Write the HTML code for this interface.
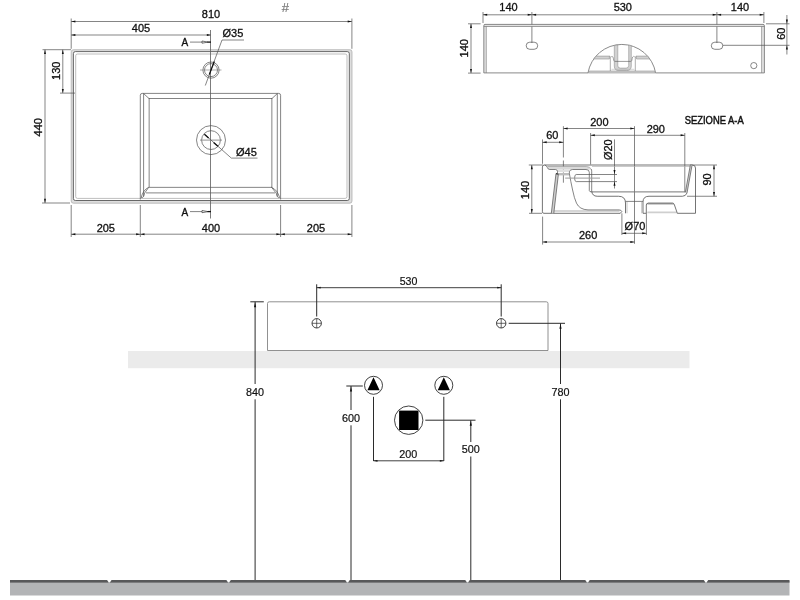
<!DOCTYPE html>
<html><head><meta charset="utf-8"><title>Scheda tecnica</title>
<style>
html,body{margin:0;padding:0;background:#fff;}
body{width:800px;height:600px;overflow:hidden;}
svg{display:block;will-change:transform;font-family:"Liberation Sans",Arial,Helvetica,sans-serif;}
</style></head><body>
<svg width="800" height="600" viewBox="0 0 800 600">
<rect x="0" y="0" width="800" height="600" fill="#ffffff"/>
<g id="topview">
<line x1="71.2" y1="18.5" x2="71.2" y2="48.8" stroke="#505050" stroke-width="0.7" />
<line x1="351.9" y1="18.5" x2="351.9" y2="48.8" stroke="#505050" stroke-width="0.7" />
<line x1="71.2" y1="21.5" x2="351.9" y2="21.5" stroke="#505050" stroke-width="0.7" />
<polygon points="71.20,21.50 75.40,20.50 75.40,22.50" fill="#111"/>
<polygon points="351.90,21.50 347.70,22.50 347.70,20.50" fill="#111"/>
<line x1="71.2" y1="35" x2="211" y2="35" stroke="#505050" stroke-width="0.7" />
<polygon points="71.20,35.00 75.40,34.00 75.40,36.00" fill="#111"/>
<polygon points="211.00,35.00 206.80,36.00 206.80,34.00" fill="#111"/>
<text x="211" y="18.3" font-size="11.77" text-anchor="middle" fill="#111" stroke="#111" stroke-width="0.32" textLength="18.35" lengthAdjust="spacingAndGlyphs" >810</text>
<text x="141" y="32.4" font-size="11.77" text-anchor="middle" fill="#111" stroke="#111" stroke-width="0.32" textLength="18.35" lengthAdjust="spacingAndGlyphs" >405</text>
<text x="285.3" y="12.4" font-size="13" text-anchor="middle" fill="#777" stroke="#777" stroke-width="0.15" >#</text>
<line x1="42.5" y1="49.7" x2="71" y2="49.7" stroke="#505050" stroke-width="0.7" />
<line x1="42" y1="203" x2="70" y2="203" stroke="#505050" stroke-width="0.7" />
<line x1="45" y1="49.7" x2="45" y2="203" stroke="#505050" stroke-width="0.7" />
<polygon points="45.00,49.70 46.00,53.90 44.00,53.90" fill="#111"/>
<polygon points="45.00,203.00 44.00,198.80 46.00,198.80" fill="#111"/>
<line x1="62.8" y1="49.7" x2="62.8" y2="93.1" stroke="#505050" stroke-width="0.7" />
<polygon points="62.80,49.70 63.80,53.90 61.80,53.90" fill="#111"/>
<polygon points="62.80,93.10 61.80,88.90 63.80,88.90" fill="#111"/>
<text x="59.6" y="70.8" font-size="11.77" text-anchor="middle" fill="#111" stroke="#111" stroke-width="0.32" transform="rotate(-90 59.6 70.8)" textLength="18.35" lengthAdjust="spacingAndGlyphs" >130</text>
<text x="42.5" y="127.2" font-size="11.77" text-anchor="middle" fill="#111" stroke="#111" stroke-width="0.32" transform="rotate(-90 42.5 127.2)" textLength="18.35" lengthAdjust="spacingAndGlyphs" >440</text>
<path d="M73.4 49.7 H349.8 Q352 49.7 352 51.900000000000006 V201.0 Q352 203.2 349.8 203.2 H73.4 Q71.2 203.2 71.2 201.0 V51.900000000000006 Q71.2 49.7 73.4 49.7 Z" fill="#dedede" stroke="#a8a8a8" stroke-width="0.7" />
<path d="M75.4 51.6 H347.3 Q349.3 51.6 349.3 53.6 V198.5 Q349.3 200.5 347.3 200.5 H75.4 Q73.4 200.5 73.4 198.5 V53.6 Q73.4 51.6 75.4 51.6 Z" fill="#fff" stroke="#444" stroke-width="0.8" />
<path d="M77.5 54 H345.2 Q347 54 347 55.8 V196.6 Q347 198.4 345.2 198.4 H77.5 Q75.7 198.4 75.7 196.6 V55.8 Q75.7 54 77.5 54 Z" fill="none" stroke="#a2a2a2" stroke-width="0.7" />
<line x1="60" y1="93.1" x2="75" y2="93.1" stroke="#505050" stroke-width="0.7" />
<path d="M140.3 199.5 V95.3 Q140.3 93.4 142.2 93.4 H278.7 Q280.6 93.4 280.6 95.3 V199.5" fill="none" stroke="#505050" stroke-width="0.7" />
<line x1="143.6" y1="93.6" x2="143.6" y2="196.5" stroke="#505050" stroke-width="0.7" />
<line x1="277.3" y1="93.6" x2="277.3" y2="196.5" stroke="#505050" stroke-width="0.7" />
<rect x="149.1" y="98.6" width="122.8" height="88.65" rx="0" fill="none" stroke="#505050" stroke-width="0.7"/>
<line x1="146" y1="192.9" x2="275" y2="192.9" stroke="#505050" stroke-width="0.7" />
<path d="M143.6 93.6 L149.1 98.6 M277.3 93.6 L271.9 98.6" fill="none" stroke="#505050" stroke-width="0.7" />
<path d="M148.75 187.25 Q143 190 141.2 197.5 Q143.5 198.5 144.6 193.1 Z" fill="none" stroke="#505050" stroke-width="0.7" />
<path d="M271.5 187.25 Q277.5 190 279.6 197.5 Q277.3 198.5 276.2 193.1 Z" fill="none" stroke="#505050" stroke-width="0.7" />
<line x1="210.5" y1="30" x2="210.5" y2="218.5" stroke="#5a5a5a" stroke-width="0.8" />
<circle cx="211" cy="70.1" r="8.1" fill="none" stroke="#505050" stroke-width="0.7"/>
<circle cx="211" cy="70.1" r="6.5" fill="none" stroke="#505050" stroke-width="0.7"/>
<line x1="200" y1="70" x2="221.5" y2="70" stroke="#777" stroke-width="0.6" />
<path d="M222 40 H244 M222 40 L205.3 85.5" fill="none" stroke="#505050" stroke-width="0.7" />
<line x1="214.3" y1="61.5" x2="209.3" y2="74.5" stroke="#111" stroke-width="1.2" />
<text x="222.5" y="36.9" font-size="11.77" text-anchor="start" fill="#111" stroke="#111" stroke-width="0.32" textLength="20.79" lengthAdjust="spacingAndGlyphs" >Ø35</text>
<circle cx="211" cy="140.1" r="14.5" fill="none" stroke="#505050" stroke-width="0.7"/>
<circle cx="211" cy="140.1" r="9.4" fill="none" stroke="#505050" stroke-width="0.7"/>
<line x1="200" y1="140.1" x2="222" y2="140.1" stroke="#888" stroke-width="0.9" />
<path d="M204.4 134.2 L231.3 158.1 H257.5" fill="none" stroke="#505050" stroke-width="0.7" />
<line x1="204.4" y1="134.2" x2="208.6" y2="138" stroke="#111" stroke-width="1.3" />
<line x1="213.6" y1="142.4" x2="217.9" y2="146.2" stroke="#111" stroke-width="1.3" />
<text x="236" y="156.1" font-size="11.77" text-anchor="start" fill="#111" stroke="#111" stroke-width="0.32" textLength="20.79" lengthAdjust="spacingAndGlyphs" >Ø45</text>
<text x="181.6" y="45.6" font-size="10" text-anchor="start" fill="#111" stroke="#111" stroke-width="0.35" >A</text>
<line x1="190" y1="42.1" x2="202" y2="42.1" stroke="#505050" stroke-width="0.7" />
<path d="M202 41.0 L208 42.1 L202 43.2 Z" fill="none" stroke="#333" stroke-width="0.7" />
<line x1="207.5" y1="42.1" x2="211" y2="42.1" stroke="#111" stroke-width="1.3" />
<text x="181.6" y="215.8" font-size="10" text-anchor="start" fill="#111" stroke="#111" stroke-width="0.35" >A</text>
<line x1="190" y1="211.6" x2="202" y2="211.6" stroke="#505050" stroke-width="0.7" />
<path d="M202 210.5 L208 211.6 L202 212.7 Z" fill="none" stroke="#333" stroke-width="0.7" />
<line x1="207.5" y1="211.6" x2="211" y2="211.6" stroke="#111" stroke-width="1.3" />
<line x1="71.2" y1="205" x2="71.2" y2="237" stroke="#505050" stroke-width="0.7" />
<line x1="140.3" y1="205" x2="140.3" y2="237" stroke="#505050" stroke-width="0.7" />
<line x1="280.6" y1="205" x2="280.6" y2="237" stroke="#505050" stroke-width="0.7" />
<line x1="351.9" y1="205" x2="351.9" y2="237" stroke="#505050" stroke-width="0.7" />
<line x1="71.2" y1="234.2" x2="351.9" y2="234.2" stroke="#505050" stroke-width="0.7" />
<polygon points="71.20,234.20 75.40,233.20 75.40,235.20" fill="#111"/>
<polygon points="140.30,234.20 136.10,235.20 136.10,233.20" fill="#111"/>
<polygon points="140.30,234.20 144.50,233.20 144.50,235.20" fill="#111"/>
<polygon points="280.60,234.20 276.40,235.20 276.40,233.20" fill="#111"/>
<polygon points="280.60,234.20 284.80,233.20 284.80,235.20" fill="#111"/>
<polygon points="351.90,234.20 347.70,235.20 347.70,233.20" fill="#111"/>
<text x="105.8" y="231.5" font-size="11.77" text-anchor="middle" fill="#111" stroke="#111" stroke-width="0.32" textLength="18.35" lengthAdjust="spacingAndGlyphs" >205</text>
<text x="211" y="231.5" font-size="11.77" text-anchor="middle" fill="#111" stroke="#111" stroke-width="0.32" textLength="18.35" lengthAdjust="spacingAndGlyphs" >400</text>
<text x="316" y="231.5" font-size="11.77" text-anchor="middle" fill="#111" stroke="#111" stroke-width="0.32" textLength="18.35" lengthAdjust="spacingAndGlyphs" >205</text>
</g>
<g id="front">
<line x1="483" y1="12" x2="483" y2="23" stroke="#505050" stroke-width="0.7" />
<line x1="763.9" y1="12" x2="763.9" y2="23" stroke="#505050" stroke-width="0.7" />
<line x1="531.9" y1="12" x2="531.9" y2="43" stroke="#505050" stroke-width="0.7" />
<line x1="716.9" y1="12" x2="716.9" y2="43" stroke="#505050" stroke-width="0.7" />
<line x1="483" y1="14.8" x2="763.9" y2="14.8" stroke="#505050" stroke-width="0.7" />
<polygon points="483.00,14.80 487.20,13.80 487.20,15.80" fill="#111"/>
<polygon points="531.90,14.80 527.70,15.80 527.70,13.80" fill="#111"/>
<polygon points="531.90,14.80 536.10,13.80 536.10,15.80" fill="#111"/>
<polygon points="716.90,14.80 712.70,15.80 712.70,13.80" fill="#111"/>
<polygon points="716.90,14.80 721.10,13.80 721.10,15.80" fill="#111"/>
<polygon points="763.90,14.80 759.70,15.80 759.70,13.80" fill="#111"/>
<text x="508.5" y="10.9" font-size="11.77" text-anchor="middle" fill="#111" stroke="#111" stroke-width="0.32" textLength="18.35" lengthAdjust="spacingAndGlyphs" >140</text>
<text x="622.8" y="10.9" font-size="11.77" text-anchor="middle" fill="#111" stroke="#111" stroke-width="0.32" textLength="18.35" lengthAdjust="spacingAndGlyphs" >530</text>
<text x="740" y="10.9" font-size="11.77" text-anchor="middle" fill="#111" stroke="#111" stroke-width="0.32" textLength="18.35" lengthAdjust="spacingAndGlyphs" >140</text>
<line x1="468" y1="23.8" x2="480.6" y2="23.8" stroke="#505050" stroke-width="0.7" />
<line x1="468" y1="73.1" x2="480.6" y2="73.1" stroke="#505050" stroke-width="0.7" />
<line x1="471" y1="23.8" x2="471" y2="73.1" stroke="#505050" stroke-width="0.7" />
<polygon points="471.00,23.80 472.00,28.00 470.00,28.00" fill="#111"/>
<polygon points="471.00,73.10 470.00,68.90 472.00,68.90" fill="#111"/>
<text x="468.1" y="48.3" font-size="11.77" text-anchor="middle" fill="#111" stroke="#111" stroke-width="0.32" transform="rotate(-90 468.1 48.3)" textLength="18.35" lengthAdjust="spacingAndGlyphs" >140</text>
<path d="M484 24.6 H764.2 V72.7 H761.6 V26.5 H486.3 V72.7 H484 Z" fill="#e2e2e2" stroke="none"/>
<path d="M485 24.4 H763 Q764.4 24.4 764.4 25.8 V72.9 H655.6 M588 72.9 H483.8 V25.8 Q483.8 24.4 485 24.4" fill="none" stroke="#6c6c6c" stroke-width="0.8" />
<path d="M483.8 26.5 H764.4" fill="none" stroke="#777" stroke-width="0.7" />
<line x1="486.3" y1="26.5" x2="486.3" y2="72.9" stroke="#777" stroke-width="0.6" />
<line x1="761.6" y1="26.5" x2="761.6" y2="72.9" stroke="#777" stroke-width="0.6" />
<rect x="526.2" y="42.2" width="11.5" height="7.1" rx="3.55" fill="none" stroke="#505050" stroke-width="0.7"/>
<rect x="711.3" y="42.2" width="11.5" height="7.1" rx="3.55" fill="none" stroke="#505050" stroke-width="0.7"/>
<circle cx="753.8" cy="65.6" r="3.1" fill="none" stroke="#555" stroke-width="0.7"/>
<line x1="766" y1="23.8" x2="789.5" y2="23.8" stroke="#505050" stroke-width="0.7" />
<line x1="722.8" y1="45.3" x2="789.5" y2="45.3" stroke="#505050" stroke-width="0.7" />
<line x1="786.9" y1="15" x2="786.9" y2="54.5" stroke="#505050" stroke-width="0.7" />
<polygon points="786.90,23.80 785.90,19.60 787.90,19.60" fill="#111"/>
<polygon points="786.90,45.30 787.90,49.50 785.90,49.50" fill="#111"/>
<text x="784.7" y="33.7" font-size="11.77" text-anchor="middle" fill="#111" stroke="#111" stroke-width="0.32" transform="rotate(-90 784.7 33.7)" textLength="12.23" lengthAdjust="spacingAndGlyphs" >60</text>
<path d="M588 72.9 A34.3 34.3 0 0 1 655.6 72.9" fill="none" stroke="#6c6c6c" stroke-width="0.8" />
<g stroke="#8a8a8a" stroke-width="0.55" fill="#d2d2d2">
<path d="M614.3 45.6 V66 Q614.3 70.6 618.9 70.6 H626.7 Q631.3 70.6 631.3 66 V45.6 L628.7 45 V65.6 Q628.7 68.1 626.2 68.1 H620.3 Q617.8 68.1 617.8 65.6 V45 Z"/>
<path d="M596.1 56.1 H609.4 V59 H593.8 Z"/>
<path d="M636.5 56.1 H647.5 L649.8 59 H636.5 Z"/>
<path d="M589.3 71 H654.4 L655.5 73 H588.2 Z"/>
</g>
<path d="M609.4 56.1 Q610.3 56.3 610.3 58 V71 M636.5 56.1 Q635.3 56.3 635.3 58 V71" fill="none" stroke="#777" stroke-width="0.6" />
<path d="M612.2 56.4 Q613.2 56.8 613.4 58.5 Q613.6 60.5 614.3 61.4 M633.4 56.4 Q632.4 56.8 632.2 58.5 Q632 60.5 631.3 61.4" fill="none" stroke="#666" stroke-width="0.6" />
<path d="M610.3 57 L612.2 56.4 M635.3 57 L633.4 56.4" fill="none" stroke="#777" stroke-width="0.5" />
<line x1="614.8" y1="61.4" x2="630.8" y2="61.4" stroke="#555" stroke-width="0.6" />
<line x1="611.5" y1="69.3" x2="634.3" y2="69.3" stroke="#aaa" stroke-width="0.5" />
</g>
<g id="section">
<text x="684.7" y="124" font-size="10.5" text-anchor="start" fill="#111" stroke="#111" stroke-width="0.45" textLength="59" lengthAdjust="spacingAndGlyphs" >SEZIONE A-A</text>
<line x1="542.5" y1="139.4" x2="542.5" y2="163.8" stroke="#505050" stroke-width="0.7" />
<line x1="563.4" y1="126.2" x2="563.4" y2="157.5" stroke="#505050" stroke-width="0.7" />
<line x1="563.4" y1="160.5" x2="563.4" y2="172.6" stroke="#505050" stroke-width="0.7" />
<line x1="563.4" y1="173.9" x2="563.4" y2="182.7" stroke="#505050" stroke-width="0.7" />
<line x1="542.5" y1="142.3" x2="563.4" y2="142.3" stroke="#505050" stroke-width="0.7" />
<polygon points="542.50,142.30 546.70,141.30 546.70,143.30" fill="#111"/>
<polygon points="563.40,142.30 559.20,143.30 559.20,141.30" fill="#111"/>
<text x="552.3" y="138.5" font-size="11.77" text-anchor="middle" fill="#111" stroke="#111" stroke-width="0.32" textLength="12.23" lengthAdjust="spacingAndGlyphs" >60</text>
<line x1="563.4" y1="128.5" x2="634.5" y2="128.5" stroke="#505050" stroke-width="0.7" />
<polygon points="563.40,128.50 567.60,127.50 567.60,129.50" fill="#111"/>
<polygon points="634.50,128.50 630.30,129.50 630.30,127.50" fill="#111"/>
<text x="599.4" y="125.6" font-size="11.77" text-anchor="middle" fill="#111" stroke="#111" stroke-width="0.32" textLength="18.35" lengthAdjust="spacingAndGlyphs" >200</text>
<line x1="590.6" y1="133" x2="590.6" y2="164.5" stroke="#505050" stroke-width="0.7" />
<line x1="684.8" y1="133" x2="684.8" y2="192" stroke="#505050" stroke-width="0.7" />
<line x1="590.6" y1="135.3" x2="684.8" y2="135.3" stroke="#505050" stroke-width="0.7" />
<polygon points="590.60,135.30 594.80,134.30 594.80,136.30" fill="#111"/>
<polygon points="684.80,135.30 680.60,136.30 680.60,134.30" fill="#111"/>
<text x="655.8" y="132.7" font-size="11.77" text-anchor="middle" fill="#111" stroke="#111" stroke-width="0.32" textLength="18.35" lengthAdjust="spacingAndGlyphs" >290</text>
<text x="611.9" y="149.7" font-size="11.77" text-anchor="middle" fill="#111" stroke="#111" stroke-width="0.32" transform="rotate(-90 611.9 149.7)" textLength="20.79" lengthAdjust="spacingAndGlyphs" >Ø20</text>
<line x1="614.5" y1="139.4" x2="614.5" y2="188.5" stroke="#505050" stroke-width="0.7" />
<polygon points="614.50,174.30 613.50,170.10 615.50,170.10" fill="#111"/>
<polygon points="614.50,181.50 615.50,185.70 613.50,185.70" fill="#111"/>
<line x1="634.5" y1="126.2" x2="634.5" y2="243.8" stroke="#505050" stroke-width="0.7" />
<line x1="528.8" y1="165" x2="543" y2="165" stroke="#505050" stroke-width="0.7" />
<line x1="529" y1="213.3" x2="542" y2="213.3" stroke="#505050" stroke-width="0.7" />
<line x1="531.8" y1="165" x2="531.8" y2="213.3" stroke="#505050" stroke-width="0.7" />
<polygon points="531.80,165.00 532.80,169.20 530.80,169.20" fill="#111"/>
<polygon points="531.80,213.30 530.80,209.10 532.80,209.10" fill="#111"/>
<text x="529" y="190" font-size="11.77" text-anchor="middle" fill="#111" stroke="#111" stroke-width="0.32" transform="rotate(-90 529 190)" textLength="18.35" lengthAdjust="spacingAndGlyphs" >140</text>
<line x1="690" y1="165" x2="717" y2="165" stroke="#505050" stroke-width="0.7" />
<line x1="687" y1="196.25" x2="717" y2="196.25" stroke="#505050" stroke-width="0.7" />
<line x1="714" y1="165" x2="714" y2="196.25" stroke="#505050" stroke-width="0.7" />
<polygon points="714.00,165.00 715.00,169.20 713.00,169.20" fill="#111"/>
<polygon points="714.00,196.25 713.00,192.05 715.00,192.05" fill="#111"/>
<text x="711.2" y="179.5" font-size="11.77" text-anchor="middle" fill="#111" stroke="#111" stroke-width="0.32" transform="rotate(-90 711.2 179.5)" textLength="12.23" lengthAdjust="spacingAndGlyphs" >90</text>
<line x1="542.6" y1="216.6" x2="542.6" y2="244.6" stroke="#505050" stroke-width="0.7" />
<line x1="542.6" y1="242" x2="634.5" y2="242" stroke="#505050" stroke-width="0.7" />
<polygon points="542.60,242.00 546.80,241.00 546.80,243.00" fill="#111"/>
<polygon points="634.50,242.00 630.30,243.00 630.30,241.00" fill="#111"/>
<text x="588.1" y="238.9" font-size="11.77" text-anchor="middle" fill="#111" stroke="#111" stroke-width="0.32" textLength="18.35" lengthAdjust="spacingAndGlyphs" >260</text>
<line x1="621.9" y1="213.3" x2="621.9" y2="235" stroke="#505050" stroke-width="0.7" />
<line x1="646.4" y1="213.3" x2="646.4" y2="235" stroke="#505050" stroke-width="0.7" />
<line x1="621.9" y1="233.3" x2="646.4" y2="233.3" stroke="#505050" stroke-width="0.7" />
<polygon points="621.90,233.30 626.10,232.30 626.10,234.30" fill="#111"/>
<polygon points="646.40,233.30 642.20,234.30 642.20,232.30" fill="#111"/>
<text x="635" y="230.1" font-size="11.77" text-anchor="middle" fill="#111" stroke="#111" stroke-width="0.32" textLength="20.79" lengthAdjust="spacingAndGlyphs" >Ø70</text>
<line x1="592" y1="166.5" x2="690" y2="166.5" stroke="#a8a8a8" stroke-width="0.6" />
<path d="M544.4 165 Q542.4 165 542.4 167 V211.8 Q542.4 213.3 543.9 213.3 H620.3 L621.8 211.5 M544.4 165 H692.3 Q695.5 165 695.5 168 V213.3 H677.3" fill="none" stroke="#505050" stroke-width="0.8" />
<path d="M547.4 166.6 H586.5 Q590 166.6 591 169.5 H548.8 Z" fill="#d9d9d9" stroke="none"/>
<path d="M557.6 169.5 H569.3 V172 H557.6 Z" fill="#e0e0e0" stroke="none"/>
<path d="M558.4 173 H569.3 V175.4 H558.4 Z" fill="#bdbdbd" stroke="none"/>
<path d="M544.6 165 Q546.4 165.3 547.2 167.3 Q548 169.5 549.6 169.5 H555.5 Q557.7 169.7 557.6 171.8 L557.2 173.8 M591.2 169 Q591.7 170 591.7 171.2 V191 M572.4 169.5 H586 Q589.3 169.5 589.3 172.3 V190.5" fill="none" stroke="#505050" stroke-width="0.7" />
<path d="M547.4 166.5 H586.3 Q589.8 166.5 591.2 169" fill="none" stroke="#8c8c8c" stroke-width="0.6" />
<path d="M589.3 190.5 Q589.5 191.9 591.5 191.9 H685" fill="none" stroke="#777" stroke-width="1.0" />
<path d="M591.7 191 Q592.2 196.25 597.2 196.25 H618.5 Q625.5 196.25 625.5 203 V213.3 M643 213.3 V202 Q643 196.25 649 196.25 H682.5 Q685.6 196.25 687 193" fill="none" stroke="#505050" stroke-width="0.8" />
<line x1="625.5" y1="201.4" x2="643" y2="201.4" stroke="#505050" stroke-width="0.7" />
<line x1="627" y1="201.4" x2="627" y2="213.3" stroke="#8a8a8a" stroke-width="0.5" />
<line x1="641.7" y1="201.4" x2="641.7" y2="213.3" stroke="#8a8a8a" stroke-width="0.5" />
<path d="M690.3 165.2 L692 165.5 L687 193 L685.3 192.5 Z" fill="#cfcfcf" stroke="none"/>
<path d="M690.3 165.2 L685.3 192.5 M692 165.5 L687 193" fill="none" stroke="#505050" stroke-width="0.7" />
<path d="M648 202.6 H673.3 L674.3 205 H647.2 Z" fill="#cfcfcf" stroke="none"/>
<path d="M647.5 211.6 H676.2 L677 213.3 H647.2 Z" fill="#cfcfcf" stroke="none"/>
<path d="M643 213.3 H646.3 V205 Q646.3 203.2 648.2 203.2 H672.5 Q673.8 203.2 674.3 204.5 L677.3 213.3" fill="none" stroke="#505050" stroke-width="0.8" />
<path d="M555.9 173.6 L558.4 174.2 L553.8 213.3 L551.3 213.3 Z" fill="#cfcfcf" stroke="none"/>
<path d="M556 173.6 L551.3 213.3 M558.4 174.2 L553.8 213.3" fill="none" stroke="#505050" stroke-width="0.7" />
<path d="M556 173.6 L558.4 174.2" fill="none" stroke="#333" stroke-width="1.2" />
<path d="M572.4 169.5 Q569.5 169.8 569.4 171.8 V173.6 Q570.6 181 572.6 190 Q574.3 198.5 576.5 203.2 Q579.5 209.6 588 209.9 H619 Q621.5 210 621.8 211.5" fill="none" stroke="#505050" stroke-width="0.7" />
<path d="M553.9 211 H619.5" fill="none" stroke="#777" stroke-width="0.6" />
<path d="M576.2 174.5 Q574.6 174.5 574.6 178 Q574.6 181.6 576.2 181.6 M576.2 174.5 H617 M576.2 181.6 H617" fill="none" stroke="#505050" stroke-width="0.7" />
<line x1="565.2" y1="178.1" x2="600" y2="178.1" stroke="#9a9a9a" stroke-width="1.0" />
</g>
<g id="install">
<rect x="128" y="351" width="561.5" height="17.2" fill="#ebebeb"/>
<path d="M269.2 301.8 H546.3 Q548 301.8 548 303.5 V350.5 H267.5 V303.5 Q267.5 301.8 269.2 301.8 Z" fill="none" stroke="#858585" stroke-width="0.9" />
<line x1="316.7" y1="284.3" x2="316.7" y2="316.5" stroke="#2b2b2b" stroke-width="1.0" />
<line x1="501.2" y1="284.3" x2="501.2" y2="316.5" stroke="#2b2b2b" stroke-width="1.0" />
<line x1="316.7" y1="287.7" x2="501.2" y2="287.7" stroke="#2b2b2b" stroke-width="0.9" />
<polygon points="316.70,287.70 320.70,286.80 320.70,288.60" fill="#111"/>
<polygon points="501.20,287.70 497.20,288.60 497.20,286.80" fill="#111"/>
<text x="408.5" y="284.6" font-size="10.6" text-anchor="middle" fill="#111" stroke="#111" stroke-width="0.2" >530</text>
<circle cx="316.7" cy="323.3" r="4.7" fill="none" stroke="#2b2b2b" stroke-width="0.9"/>
<line x1="312.0" y1="323.3" x2="321.4" y2="323.3" stroke="#2b2b2b" stroke-width="0.7" />
<line x1="316.7" y1="318.6" x2="316.7" y2="328" stroke="#2b2b2b" stroke-width="0.7" />
<circle cx="501.2" cy="323.3" r="4.7" fill="none" stroke="#2b2b2b" stroke-width="0.9"/>
<line x1="496.5" y1="323.3" x2="505.9" y2="323.3" stroke="#2b2b2b" stroke-width="0.7" />
<line x1="501.2" y1="318.6" x2="501.2" y2="328" stroke="#2b2b2b" stroke-width="0.7" />
<line x1="250.3" y1="301.8" x2="263.8" y2="301.8" stroke="#2b2b2b" stroke-width="1.0" />
<line x1="255.1" y1="301.8" x2="255.1" y2="384" stroke="#2b2b2b" stroke-width="1.0" />
<line x1="255.1" y1="399.3" x2="255.1" y2="580" stroke="#2b2b2b" stroke-width="1.0" />
<polygon points="255.10,302.30 256.20,307.30 254.00,307.30" fill="#111"/>
<text x="255.1" y="396" font-size="10.8" text-anchor="middle" fill="#111" stroke="#111" stroke-width="0.2" >840</text>
<line x1="508.7" y1="323.3" x2="565" y2="323.3" stroke="#2b2b2b" stroke-width="1.0" />
<line x1="560.5" y1="323.3" x2="560.5" y2="384" stroke="#2b2b2b" stroke-width="1.0" />
<line x1="560.5" y1="399.3" x2="560.5" y2="580" stroke="#2b2b2b" stroke-width="1.0" />
<polygon points="560.50,323.80 561.60,328.80 559.40,328.80" fill="#111"/>
<text x="560.5" y="396" font-size="10.8" text-anchor="middle" fill="#111" stroke="#111" stroke-width="0.2" >780</text>
<circle cx="373.5" cy="385.3" r="9" fill="#fff" stroke="#2b2b2b" stroke-width="0.9"/>
<polygon points="373.5,377.3 367.4,390.2 379.6,390.2" fill="#000"/>
<line x1="373.5" y1="396.8" x2="373.5" y2="461" stroke="#2b2b2b" stroke-width="1.0" />
<circle cx="443.8" cy="385.3" r="9" fill="#fff" stroke="#2b2b2b" stroke-width="0.9"/>
<polygon points="443.8,377.3 437.7,390.2 449.90000000000003,390.2" fill="#000"/>
<line x1="443.8" y1="396.8" x2="443.8" y2="461" stroke="#2b2b2b" stroke-width="1.0" />
<line x1="346.3" y1="386" x2="362.8" y2="386" stroke="#2b2b2b" stroke-width="1.0" />
<line x1="351" y1="386" x2="351" y2="410" stroke="#2b2b2b" stroke-width="1.0" />
<line x1="351" y1="425.3" x2="351" y2="580" stroke="#2b2b2b" stroke-width="1.0" />
<polygon points="351.00,386.50 352.10,391.50 349.90,391.50" fill="#111"/>
<text x="351" y="421.8" font-size="10.8" text-anchor="middle" fill="#111" stroke="#111" stroke-width="0.2" >600</text>
<circle cx="408.7" cy="420.2" r="14.2" fill="#fff" stroke="#2b2b2b" stroke-width="0.9"/>
<rect x="399.1" y="410.6" width="19.4" height="19.4" fill="#000"/>
<line x1="425.3" y1="420.2" x2="475.5" y2="420.2" stroke="#2b2b2b" stroke-width="1.0" />
<line x1="470.8" y1="420.2" x2="470.8" y2="442" stroke="#2b2b2b" stroke-width="1.0" />
<line x1="470.8" y1="456.5" x2="470.8" y2="580" stroke="#2b2b2b" stroke-width="1.0" />
<polygon points="470.80,420.70 471.90,425.70 469.70,425.70" fill="#111"/>
<text x="470.8" y="453.2" font-size="10.8" text-anchor="middle" fill="#111" stroke="#111" stroke-width="0.2" >500</text>
<line x1="373.5" y1="460.8" x2="443.8" y2="460.8" stroke="#2b2b2b" stroke-width="0.9" />
<polygon points="373.50,460.80 377.50,459.90 377.50,461.70" fill="#111"/>
<polygon points="443.80,460.80 439.80,461.70 439.80,459.90" fill="#111"/>
<text x="408.3" y="458" font-size="10.8" text-anchor="middle" fill="#111" stroke="#111" stroke-width="0.2" >200</text>
<rect x="10" y="581" width="779.5" height="14.5" fill="#b3b4b6"/>
<rect x="10" y="580" width="779.5" height="2.6" fill="#58585a"/>
<polygon points="106.7,579.5 111.89999999999999,579.5 109.3,583.2" fill="#fff"/>
<polygon points="108.39999999999999,582 110.2,582 109.3,583.4" fill="#b3b4b6"/>
<polygon points="226.0,579.5 231.2,579.5 228.6,583.2" fill="#fff"/>
<polygon points="227.7,582 229.5,582 228.6,583.4" fill="#b3b4b6"/>
<polygon points="344.9,579.5 350.1,579.5 347.5,583.2" fill="#fff"/>
<polygon points="346.6,582 348.4,582 347.5,583.4" fill="#b3b4b6"/>
<polygon points="464.9,579.5 470.1,579.5 467.5,583.2" fill="#fff"/>
<polygon points="466.6,582 468.4,582 467.5,583.4" fill="#b3b4b6"/>
<polygon points="584.9,579.5 590.1,579.5 587.5,583.2" fill="#fff"/>
<polygon points="586.6,582 588.4,582 587.5,583.4" fill="#b3b4b6"/>
<polygon points="703.4,579.5 708.6,579.5 706,583.2" fill="#fff"/>
<polygon points="705.1,582 706.9,582 706,583.4" fill="#b3b4b6"/>
</g>
</svg>
</body></html>
